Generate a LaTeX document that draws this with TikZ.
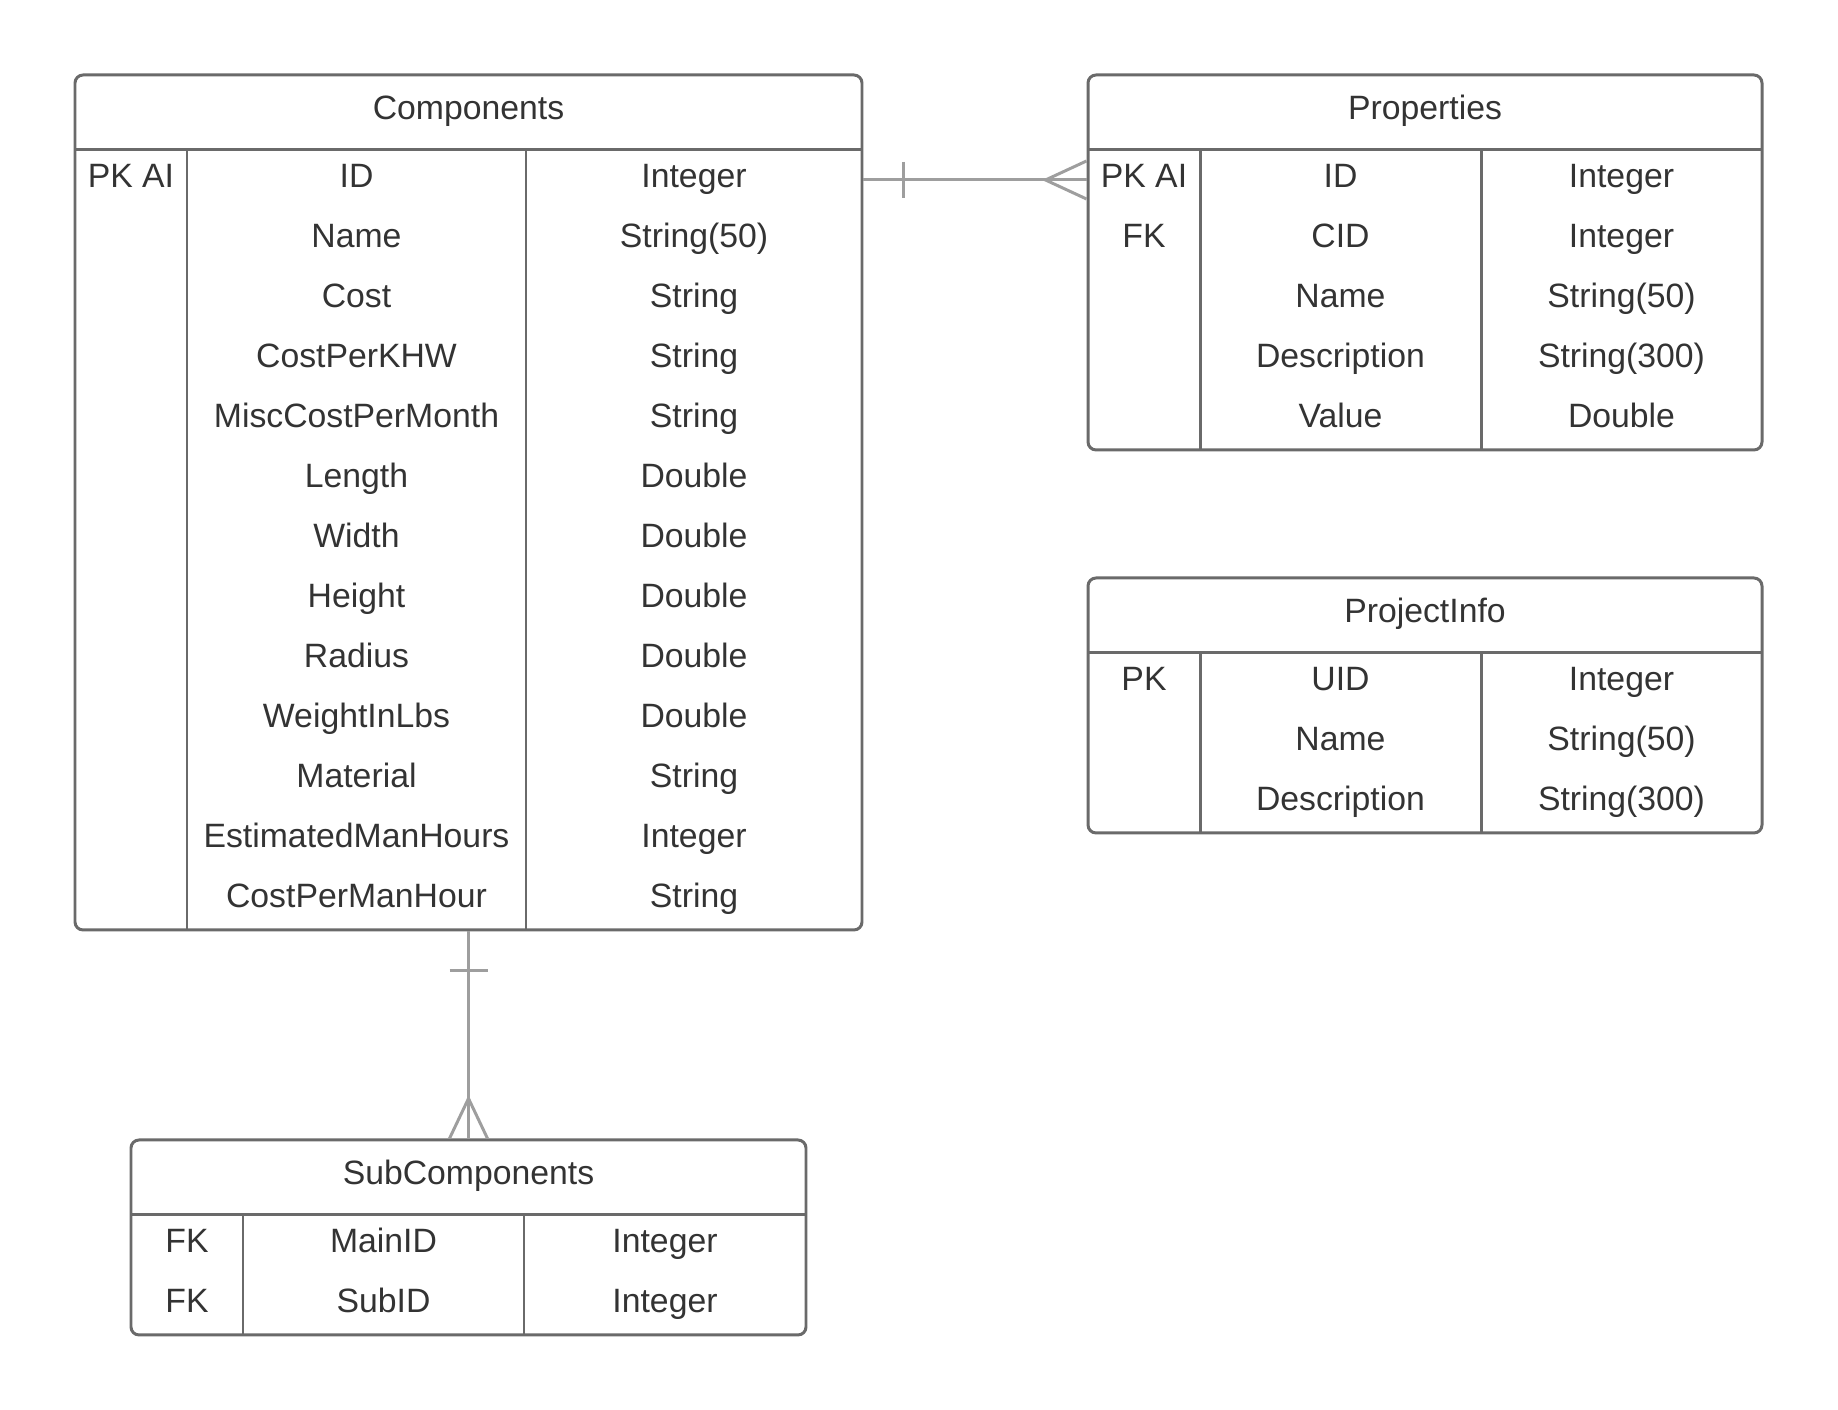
\documentclass[tikz,border=0pt]{standalone}
\usepackage{fontspec}
\setmainfont{Liberation Sans}
\usepackage{xcolor}
\usepackage{tikz}
\usetikzlibrary{calc}
\usetikzlibrary{fit}

\definecolor{boxgray}{HTML}{6A6A6A}
\definecolor{linkgray}{HTML}{9E9E9E}
\definecolor{textgray}{HTML}{333333}

\begin{document}
\begin{tikzpicture}[x=0.01cm,y=-0.01cm,
        table/.style={draw=boxgray,line width=0.85pt,rounded corners=2.3pt,inner sep=0pt},
        rule/.style={draw=boxgray,line width=0.85pt},
        link/.style={draw=linkgray,line width=0.85pt},
        cell/.style={text=textgray,font=\fontsize{9.6pt}{11pt}\selectfont,inner sep=0pt,
            text height=7pt,text depth=3pt}]
        \useasboundingbox (0,0) rectangle (1838,1410);

        % Components
        \node[table,fit={(75,75) (862,930)}] (comp) {};
        \draw[rule] (75,150) -- (862,150);
        \draw[rule] (187,150) -- (187,930);
        \draw[rule] (526,150) -- (526,930);
        \node[cell] (comp-title) at (468.5,112.5) {Components};
        \node[cell] (comp-k0) at (131,180) {PK AI};
        \foreach \n/\t [count=\i from 0] in {ID/Integer,Name/String(50),Cost/String,
            CostPerKHW/String,MiscCostPerMonth/String,Length/Double,Width/Double,
            Height/Double,Radius/Double,WeightInLbs/Double,Material/String,
            EstimatedManHours/Integer,CostPerManHour/String}{
            \node[cell] (comp-n\i) at (356.5,{180+60*\i}) {\n};
            \node[cell] (comp-t\i) at (694,{180+60*\i}) {\t};
        }

        % Properties
        \node[table,fit={(1088,75) (1762,450)}] (prop) {};
        \draw[rule] (1088,150) -- (1762,150);
        \draw[rule] (1200,150) -- (1200,450);
        \draw[rule] (1481,150) -- (1481,450);
        \node[cell] (prop-title) at (1425,112.5) {Properties};
        \node[cell] (prop-k0) at (1144,180) {PK AI};
        \node[cell] (prop-k1) at (1144,240) {FK};
        \foreach \n/\t [count=\i from 0] in {ID/Integer,CID/Integer,Name/String(50),
            Description/String(300),Value/Double}{
            \node[cell] (prop-n\i) at (1340.5,{180+60*\i}) {\n};
            \node[cell] (prop-t\i) at (1621.5,{180+60*\i}) {\t};
        }

        % ProjectInfo
        \node[table,fit={(1088,578) (1762,833)}] (info) {};
        \draw[rule] (1088,653) -- (1762,653);
        \draw[rule] (1200,653) -- (1200,833);
        \draw[rule] (1481,653) -- (1481,833);
        \node[cell] (info-title) at (1425,615.5) {ProjectInfo};
        \node[cell] (info-k0) at (1144,683) {PK};
        \foreach \n/\t [count=\i from 0] in {UID/Integer,Name/String(50),
            Description/String(300)}{
            \node[cell] (info-n\i) at (1340.5,{683+60*\i}) {\n};
            \node[cell] (info-t\i) at (1621.5,{683+60*\i}) {\t};
        }

        % SubComponents
        \node[table,fit={(131,1140) (806,1335)}] (sub) {};
        \draw[rule] (131,1215) -- (806,1215);
        \draw[rule] (243,1215) -- (243,1335);
        \draw[rule] (524,1215) -- (524,1335);
        \node[cell] (sub-title) at (468.5,1177.5) {SubComponents};
        \node[cell] (sub-k0) at (187,1245) {FK};
        \node[cell] (sub-k1) at (187,1305) {FK};
        \node[cell] (sub-n0) at (383.5,1245) {MainID};
        \node[cell] (sub-t0) at (665,1245) {Integer};
        \node[cell] (sub-n1) at (383.5,1305) {SubID};
        \node[cell] (sub-t1) at (665,1305) {Integer};

        % one to many: Components - Properties
        \draw[link] (comp.east |- comp-n0) coordinate (one) -- (prop.west |- prop-n0) coordinate (many);
        \draw[link] ($(one)+(40,-18)$) -- ($(one)+(40,18)$);
        \draw[link] ($(many)+(0,-19)$) -- ($(many)+(-41,0)$) -- ($(many)+(0,19)$);

        % one to many: Components - SubComponents
        \draw[link] (comp.south) coordinate (one2) -- (sub.north) coordinate (many2);
        \draw[link] ($(one2)+(-19,39)$) -- ($(one2)+(19,39)$);
        \draw[link] ($(many2)+(-19,0)$) -- ($(many2)+(0,-40)$) -- ($(many2)+(19,0)$);
    \end{tikzpicture}
\end{document}
